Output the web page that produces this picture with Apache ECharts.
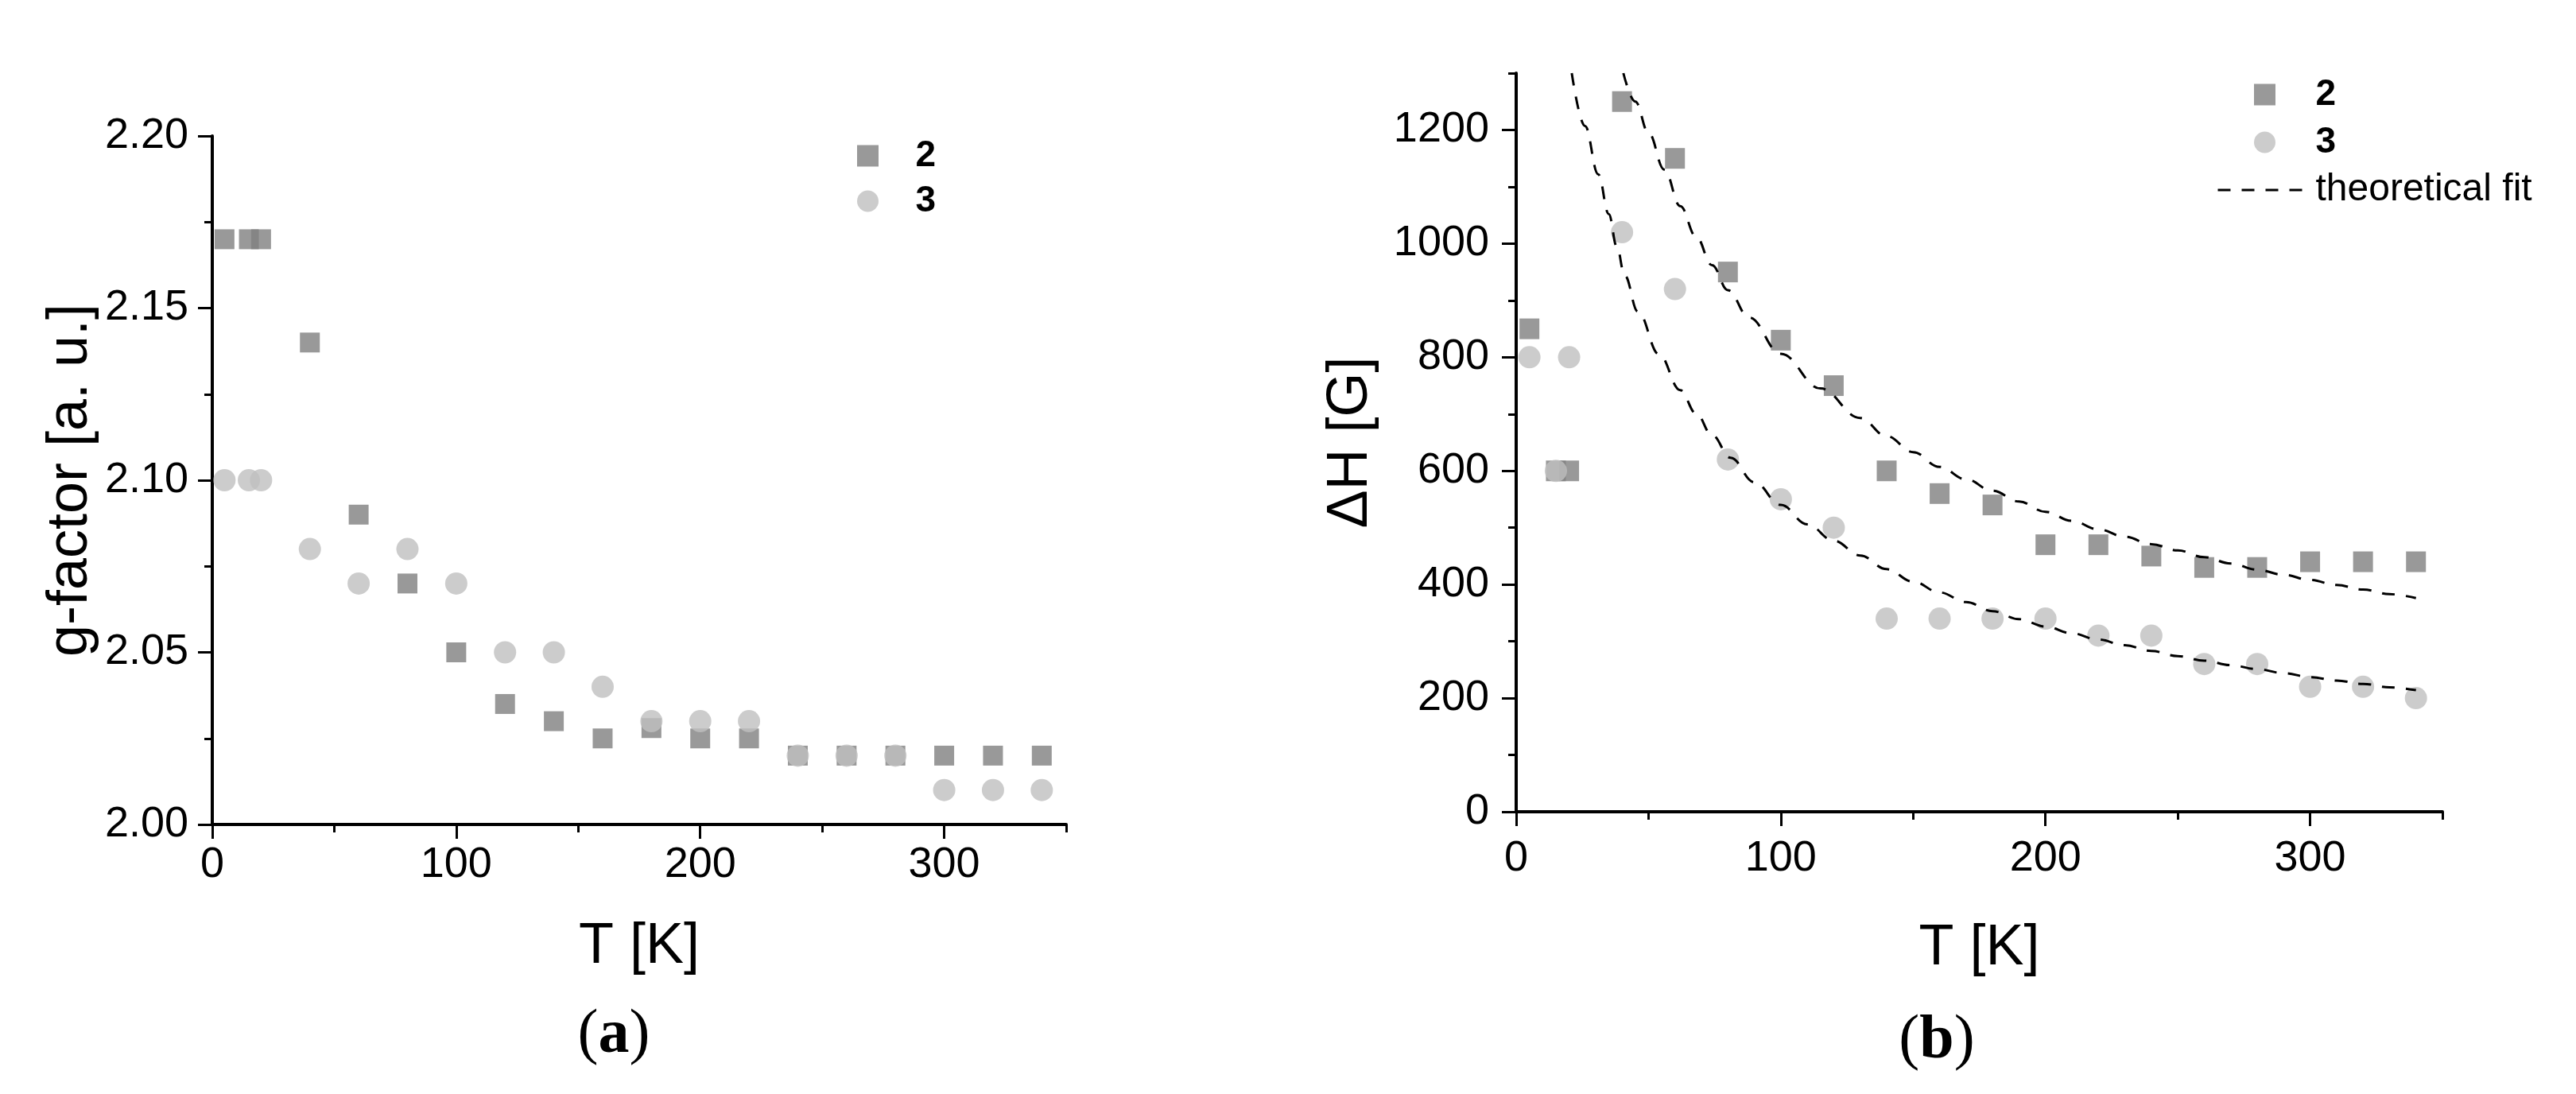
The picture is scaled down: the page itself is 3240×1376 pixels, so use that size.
<!DOCTYPE html>
<html>
<head>
<meta charset="utf-8">
<title>g-factor and line width vs temperature</title>
<script src="https://cdn.jsdelivr.net/npm/echarts@6/dist/echarts.min.js"></script>
<style>
  html, body { margin: 0; padding: 0; background: #fff; }
  #chart { width: 3240px; height: 1376px; }
</style>
</head>
<body>
<div id="chart"></div>
<script>
// measured temperatures (both samples, both panels)
var temps = [5, 15, 20, 40, 60, 80, 100, 120, 140, 160, 180, 200, 220, 240, 260, 280, 300, 320, 340];

// (a) g-factor
var gFactor2 = [2.17, 2.17, 2.17, 2.14, 2.09, 2.07, 2.05, 2.035, 2.03, 2.025, 2.028, 2.025, 2.025, 2.02, 2.02, 2.02, 2.02, 2.02, 2.02];
var gFactor3 = [2.10, 2.10, 2.10, 2.08, 2.07, 2.08, 2.07, 2.05, 2.05, 2.04, 2.03, 2.03, 2.03, 2.02, 2.02, 2.02, 2.01, 2.01, 2.01];

// (b) line width dH
var deltaH2 = [850, 600, 600, 1250, 1150, 950, 830, 750, 600, 560, 540, 470, 470, 450, 430, 430, 440, 440, 440];
var deltaH3 = [800, 600, 800, 1020, 920, 620, 550, 500, 340, 340, 340, 340, 310, 310, 260, 260, 220, 220, 200];

// theoretical fit curves
var fitT2 = [40.5, 45, 50, 56, 62, 68, 74, 80, 88, 100, 115, 130, 140, 150, 160, 170, 180, 190, 200, 210, 220, 230, 240, 250, 260, 270, 280, 290, 300, 310, 320, 330, 340];
var fitH2 = [1300, 1250, 1195, 1130, 1066, 1012, 962, 918, 870, 806, 745, 693, 661, 633, 607, 585, 565, 546, 528, 512, 497, 484, 471, 460, 448, 437, 426, 417, 408, 399, 391, 383, 376];
var fitT3 = [21, 26, 31, 35, 38, 41, 46, 54, 62, 68, 74, 81, 90, 100, 110, 120, 130, 140, 150, 160, 170, 180, 190, 200, 210, 220, 230, 240, 250, 260, 270, 280, 290, 300, 310, 320, 330, 340];
var fitH3 = [1300, 1207, 1122, 1052, 995, 944, 880, 805, 742, 701, 663, 623, 580, 540, 506, 477, 451, 427, 405, 386, 369, 353, 339, 326, 314, 303, 293, 283, 274, 266, 258, 251, 244, 237, 231, 225, 219, 214];

// tick positions
var tMajor = [0, 100, 200, 300];
var tMinor = [50, 150, 250, 350];
var gMajor = [2.00, 2.05, 2.10, 2.15, 2.20];
var gMinor = [2.025, 2.075, 2.125, 2.175];
var hMajor = [0, 200, 400, 600, 800, 1000, 1200];
var hMinor = [100, 300, 500, 700, 900, 1100, 1300];

var FONT = '"Liberation Sans", Arial, sans-serif';
var SERIF = '"Liberation Serif", "Times New Roman", serif';
var DARK = '#7f7f7f';
var LIGHT = '#bfbfbf';
var SQUARE = 'path://M0,0H10V10H0Z';

function zip(xs, ys) {
    return xs.map(function (x, i) { return [x, ys[i]]; });
}

var chart = echarts.init(document.getElementById('chart'));

function majorAxis(gridIndex, min, max, ticks, opts) {
    return {
        type: 'value',
        gridIndex: gridIndex,
        min: min,
        max: max,
        position: opts.position,
        name: opts.name,
        nameLocation: 'middle',
        nameGap: opts.nameGap,
        nameTextStyle: { fontFamily: FONT, fontSize: 72, color: '#000' },
        axisLine: { show: true, onZero: false, lineStyle: { color: '#000', width: 4 } },
        axisTick: { show: true, length: 18, customValues: ticks, lineStyle: { color: '#000', width: 3 } },
        axisLabel: {
            show: true,
            customValues: ticks,
            margin: opts.margin,
            fontFamily: FONT,
            fontSize: 54,
            color: '#000',
            formatter: opts.formatter
        },
        splitLine: { show: false }
    };
}

function minorAxis(gridIndex, min, max, ticks, position) {
    return {
        type: 'value',
        gridIndex: gridIndex,
        min: min,
        max: max,
        position: position,
        axisLine: { show: false, onZero: false },
        axisTick: { show: true, length: 10, customValues: ticks, lineStyle: { color: '#000', width: 3 } },
        axisLabel: { show: false },
        splitLine: { show: false }
    };
}

function panelLabel(letter, x, y) {
    return {
        type: 'text', x: x, y: y, silent: true,
        style: {
            text: '{p|(}{b|' + letter + '}{p|)}', align: 'center', verticalAlign: 'middle',
            rich: {
                p: { fontFamily: SERIF, fontSize: 78, fill: '#000' },
                b: { fontFamily: SERIF, fontSize: 78, fontWeight: 'bold', fill: '#000' }
            }
        }
    };
}

var legendText = { fontFamily: FONT, fontSize: 46, fontWeight: 'bold', color: '#000', lineHeight: 48 };

option = {
    animation: false,
    backgroundColor: '#fff',
    grid: [
        { left: 267, top: 171, width: 1074, height: 866, containLabel: false, outerBoundsMode: 'none' },
        { left: 1907, top: 92, width: 1165, height: 929, containLabel: false, outerBoundsMode: 'none' }
    ],
    xAxis: [
        majorAxis(0, 0, 350, tMajor, { position: 'bottom', name: 'T [K]', nameGap: 118, margin: 24 }),
        minorAxis(0, 0, 350, tMinor, 'bottom'),
        majorAxis(1, 0, 350, tMajor, { position: 'bottom', name: 'T [K]', nameGap: 136, margin: 32 }),
        minorAxis(1, 0, 350, tMinor, 'bottom')
    ],
    yAxis: [
        majorAxis(0, 2.0, 2.2, gMajor, {
            position: 'left', name: 'g-factor [a. u.]', nameGap: 142, margin: 30,
            formatter: function (v) { return v.toFixed(2); }
        }),
        minorAxis(0, 2.0, 2.2, gMinor, 'left'),
        majorAxis(1, 0, 1300, hMajor, {
            position: 'left', name: 'ΔH [G]', nameGap: 172, margin: 34,
            formatter: function (v) { return String(v); }
        }),
        minorAxis(1, 0, 1300, hMinor, 'left')
    ],
    legend: [
        {
            orient: 'vertical', left: 1078, top: 172, padding: 0,
            itemWidth: 110, itemHeight: 27, itemGap: 9, selectedMode: false,
            textStyle: legendText,
            data: [{ name: '2', icon: SQUARE }, { name: '3', icon: 'circle' }]
        },
        {
            orient: 'vertical', left: 2788, top: 95, padding: 0,
            itemWidth: 118, itemHeight: 27, itemGap: 12, selectedMode: false,
            lineStyle: { width: 3 },
            textStyle: legendText,
            data: [
                { name: '2', icon: SQUARE },
                { name: '3', icon: 'circle' },
                { name: 'theoretical fit', itemStyle: { opacity: 0 }, textStyle: { fontWeight: 'normal', fontSize: 48 } }
            ]
        }
    ],
    graphic: [
        panelLabel('a', 772, 1303),
        panelLabel('b', 2436, 1310)
    ],
    series: [
        {
            name: '2', type: 'scatter', xAxisIndex: 0, yAxisIndex: 0,
            symbol: 'rect', symbolSize: [25, 25], itemStyle: { color: DARK },
            data: zip(temps, gFactor2)
        },
        {
            name: '3', type: 'scatter', xAxisIndex: 0, yAxisIndex: 0,
            symbol: 'circle', symbolSize: 28, itemStyle: { color: LIGHT },
            data: zip(temps, gFactor3)
        },
        {
            name: '2', type: 'scatter', xAxisIndex: 2, yAxisIndex: 2,
            symbol: 'rect', symbolSize: [25, 26], itemStyle: { color: DARK },
            data: zip(temps, deltaH2)
        },
        {
            name: '3', type: 'scatter', xAxisIndex: 2, yAxisIndex: 2,
            symbol: 'circle', symbolSize: 28, itemStyle: { color: LIGHT },
            data: zip(temps, deltaH3)
        },
        {
            name: 'theoretical fit', type: 'line', xAxisIndex: 2, yAxisIndex: 2,
            symbol: 'none', showSymbol: false, smooth: 0.4, smoothMonotone: 'x', z: 5,
            itemStyle: { color: '#000' },
            lineStyle: { color: '#000', width: 3, type: [16, 14] },
            data: zip(fitT2, fitH2)
        },
        {
            name: 'theoretical fit', type: 'line', xAxisIndex: 2, yAxisIndex: 2,
            symbol: 'none', showSymbol: false, smooth: 0.4, smoothMonotone: 'x', z: 5,
            itemStyle: { color: '#000' },
            lineStyle: { color: '#000', width: 3, type: [16, 14] },
            data: zip(fitT3, fitH3)
        }
    ]
};

chart.setOption(option);
</script>
</body>
</html>
